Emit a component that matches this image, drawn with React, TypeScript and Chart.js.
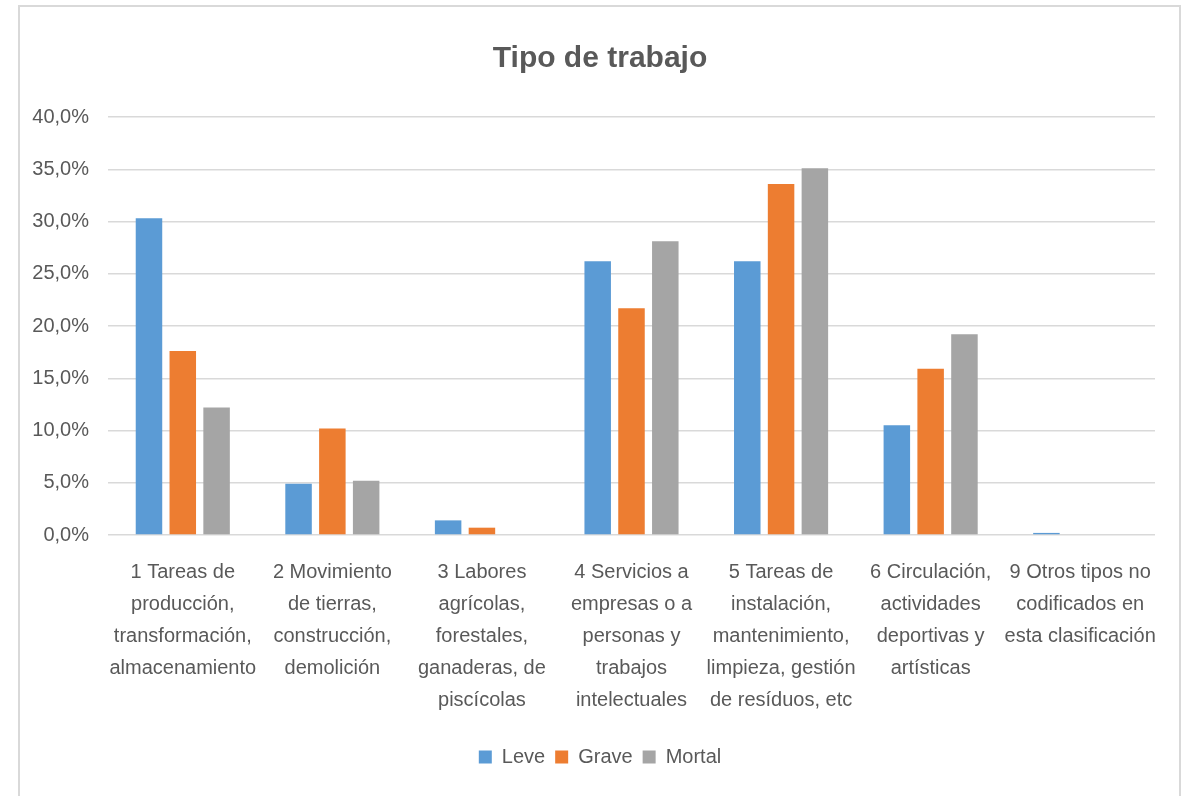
import React, { useEffect, useRef } from "react";
import { Chart, registerables } from "chart.js";

Chart.register(...registerables);

const categories: string[][] = [
  ["1 Tareas de", "producción,", "transformación,", "almacenamiento"],
  ["2 Movimiento", "de tierras,", "construcción,", "demolición"],
  ["3 Labores", "agrícolas,", "forestales,", "ganaderas, de", "piscícolas"],
  ["4 Servicios a", "empresas o a", "personas y", "trabajos", "intelectuales"],
  ["5 Tareas de", "instalación,", "mantenimiento,", "limpieza, gestión", "de resíduos, etc"],
  ["6 Circulación,", "actividades", "deportivas y", "artísticas"],
  ["9 Otros tipos no", "codificados en", "esta clasificación"],
];

const leve: number[] = [30.3, 4.9, 1.4, 26.2, 26.2, 10.5, 0.2];
const grave: number[] = [17.6, 10.2, 0.7, 21.7, 33.6, 15.9, 0];
const mortal: number[] = [12.2, 5.2, 0, 28.1, 35.1, 19.2, 0];

const seriesNames = ["Leve", "Grave", "Mortal"];
const seriesColors = ["#5B9BD5", "#ED7D31", "#A5A5A5"];

const yMin = 0;
const yMax = 40;
const yStep = 5;

const titleText = "Tipo de trabajo";

export default function App() {
  const ref = useRef<HTMLCanvasElement | null>(null);

  useEffect(() => {
    if (!ref.current) return;
    const font = '"Liberation Sans", Arial, sans-serif';
    Chart.defaults.font.family = font;
    Chart.defaults.color = "#595959";
    const chart = new Chart(ref.current, {
      type: "bar",
      data: {
        labels: categories,
        datasets: [leve, grave, mortal].map((d, i) => ({
          label: seriesNames[i],
          data: d,
          backgroundColor: seriesColors[i],
          borderWidth: 0,
          categoryPercentage: 0.678,
          barPercentage: 0.784,
        })),
      },
      options: {
        responsive: false,
        animation: false,
        layout: { padding: { left: 32, right: 22, top: 0, bottom: 19 } },
        plugins: {
          title: {
            display: true,
            text: titleText,
            color: "#595959",
            font: { size: 30, weight: "bold", family: font },
            padding: { top: 41, bottom: 40 },
          },
          legend: {
            position: "bottom",
            labels: {
              boxWidth: 13,
              boxHeight: 13,
              padding: 10,
              color: "#595959",
              font: { size: 20, family: font },
            },
          },
          tooltip: { enabled: false },
        },
        scales: {
          x: {
            grid: { display: false, drawTicks: false },
            border: { display: false },
            ticks: {
              autoSkip: false,
              maxRotation: 0,
              minRotation: 0,
              padding: 21,
              color: "#595959",
              font: { size: 20, family: font, lineHeight: 1.6 },
            },
          },
          y: {
            min: yMin,
            max: yMax,
            grid: { color: "#d9d9d9", lineWidth: 1.5, drawTicks: false },
            border: { display: false },
            ticks: {
              stepSize: yStep,
              padding: 19,
              color: "#595959",
              font: { size: 20, family: font },
              callback: (v: any) => Number(v).toFixed(1).replace(".", ",") + "%",
            },
            afterFit: (s: any) => {
              s.width = 76;
            },
          },
          y2: {
            type: "linear",
            position: "right",
            min: yMin,
            max: yMax,
            grid: { display: false, drawTicks: false },
            border: { display: false },
            ticks: { display: false },
            afterFit: (s: any) => {
              s.width = 13;
            },
          },
        },
      },
    });
    return () => chart.destroy();
  }, []);

  return (
    <div style={{ position: "fixed", left: 0, top: 0, width: 1190, height: 796, background: "#fff", overflow: "hidden" }}>
      <div
        style={{
          position: "absolute",
          left: 18,
          top: 5,
          width: 1159,
          height: 800,
          borderTop: "2px solid #d9d9d9",
          borderLeft: "2px solid #d9d9d9",
          borderRight: "2px solid #d9d9d9",
        }}
      />
      <canvas ref={ref} width={1190} height={796} style={{ position: "absolute", left: 0, top: 0 }} />
    </div>
  );
}
